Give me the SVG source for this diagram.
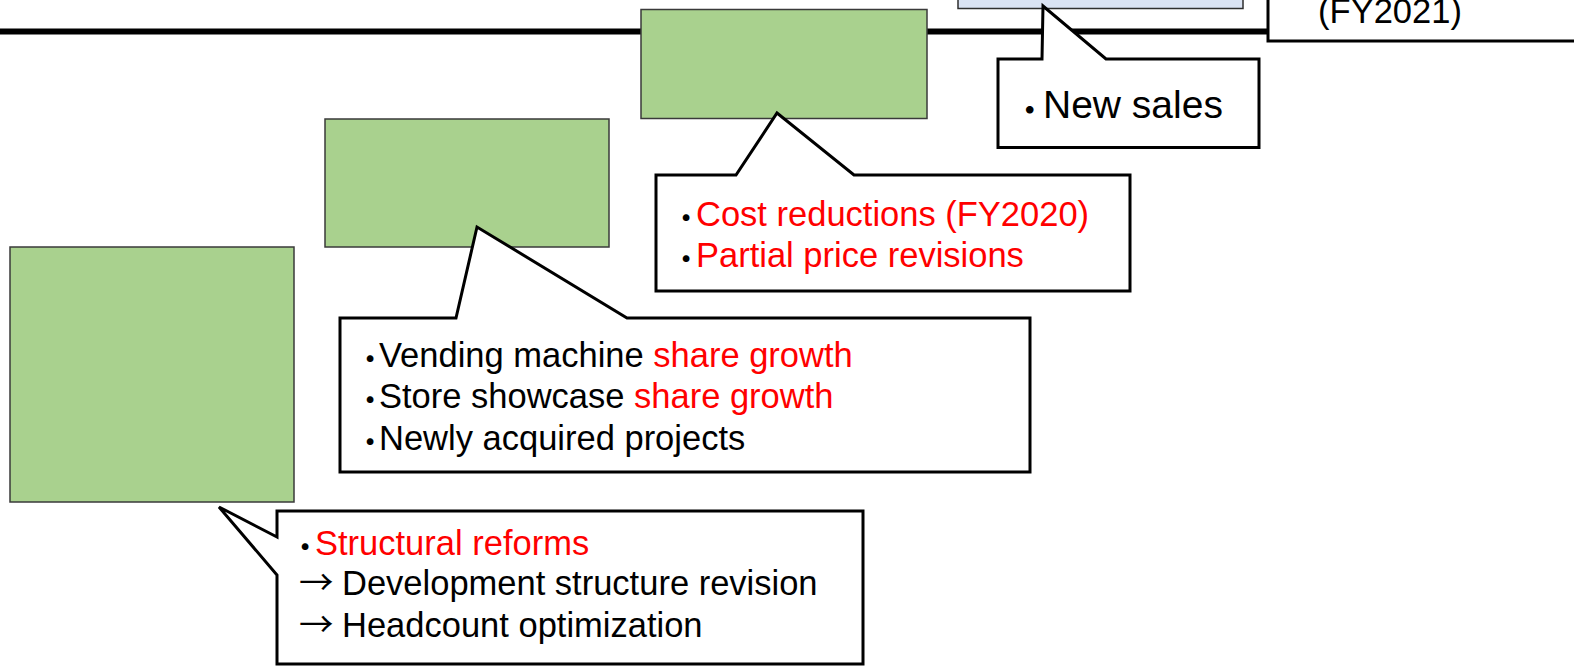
<svg xmlns="http://www.w3.org/2000/svg" width="1574" height="669" viewBox="0 0 1574 669">
<style>
.g{fill:#a9d18e;stroke:#3a3a3a;stroke-width:1.5}
.c{fill:#fff;stroke:#000;stroke-width:3;stroke-linejoin:miter}
.t{font-family:"Liberation Sans","Noto Sans CJK JP",Arial,sans-serif;font-size:34.5px;fill:#000}
.b{font-family:"Noto Sans CJK JP",sans-serif;font-weight:bold}
.a{font-family:"Noto Sans CJK JP",sans-serif}
.r{fill:#ff0000}
</style>
<g id="axis">
<line x1="0" y1="31.5" x2="1268" y2="31.5" stroke="#000" stroke-width="6"/>
</g>
<g id="box-1"><rect class="g" x="10" y="247" width="284" height="255"/></g>
<g id="box-2"><rect class="g" x="325" y="119" width="284" height="128"/></g>
<g id="box-3"><rect class="g" x="641" y="9.5" width="286" height="109"/></g>
<g id="box-4"><rect x="958" y="-10" width="285" height="18.5" fill="#dae3f3" stroke="#2f2f2f" stroke-width="1.5"/></g>
<g id="fy2021">
<rect x="1268" y="-10" width="330" height="51" fill="#fff" stroke="#000" stroke-width="3"/>
<text class="t" x="1390" y="23" text-anchor="middle">(FY2021)</text>
</g>
<g id="callout-newsales">
<path class="c" d="M998,59 L1042,59 L1043,6 L1106,59 L1259,59 L1259,147.5 L998,147.5 Z"/>
<text class="t" style="font-size:39px"><tspan class="b" x="1020" y="124">･</tspan><tspan x="1043" y="118">New sales</tspan></text>
</g>
<g id="callout-cost">
<path class="c" d="M656,175 L736,175 L777,113 L854,175 L1130,175 L1130,291 L656,291 Z"/>
<text class="t"><tspan class="b" x="677.5" y="231">･</tspan><tspan class="r" x="696" y="226">Cost reductions (FY2020)</tspan></text>
<text class="t"><tspan class="b" x="677.5" y="272">･</tspan><tspan class="r" x="696" y="267">Partial price revisions</tspan></text>
</g>
<g id="callout-share">
<path class="c" d="M340,318 L456,318 L477,227 L627,318 L1030,318 L1030,472 L340,472 Z"/>
<text class="t"><tspan class="b" x="361.5" y="372">･</tspan><tspan x="379" y="367">Vending machine </tspan><tspan class="r">share growth</tspan></text>
<text class="t"><tspan class="b" x="361.5" y="413">･</tspan><tspan x="379" y="408">Store showcase </tspan><tspan class="r">share growth</tspan></text>
<text class="t"><tspan class="b" x="361.5" y="455">･</tspan><tspan x="379" y="450">Newly acquired projects</tspan></text>
</g>
<g id="callout-structural">
<path class="c" d="M277,537 L219,507 L277,575 L277,664 L863,664 L863,511 L277,511 Z"/>
<text class="t"><tspan class="b" x="296.5" y="560">･</tspan><tspan class="r" x="315" y="555">Structural reforms</tspan></text>
<text class="t"><tspan class="a" x="299" y="595">→</tspan><tspan x="342" y="595">Development structure revision</tspan></text>
<text class="t"><tspan class="a" x="299" y="637">→</tspan><tspan x="342" y="637">Headcount optimization</tspan></text>
</g>
</svg>
